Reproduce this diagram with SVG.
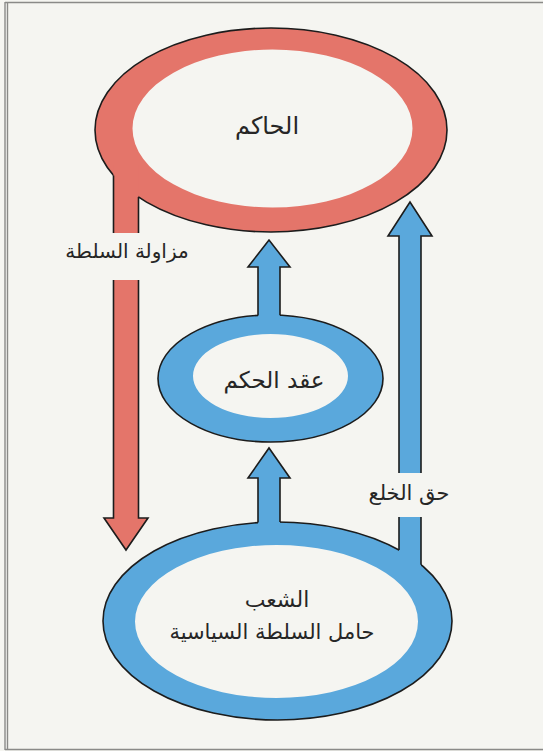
<svg xmlns="http://www.w3.org/2000/svg" width="543" height="751" viewBox="0 0 543 751">
<style>
.red{fill:#e4756a}
.blue{fill:#5aa8dc}
.ring{fill-rule:evenodd}
.outline{fill:none;stroke:#1c1c1c;stroke-width:1.6;stroke-linejoin:miter}
.arrow{stroke:#1c1c1c;stroke-width:1.6;stroke-linejoin:miter}
.frame{fill:none;stroke:#8a8a88;stroke-width:1.4}
.lbl{font-family:"DejaVu Sans",sans-serif;font-size:21px;fill:#262626;text-anchor:middle}
</style>
<rect x="0" y="0" width="543" height="751" fill="#f5f5f1"/>
<g id="frame">
<line class="frame" x1="5" y1="2.5" x2="543" y2="2.5"/>
<line class="frame" x1="5" y1="2" x2="5" y2="750"/>
<line class="frame" x1="7.5" y1="2" x2="7.5" y2="750"/>
<line class="frame" x1="5" y1="749.5" x2="543" y2="749.5"/>
</g>
<g id="ruler">
<path class="red ring" d="M95,130 a176,102 0 1,0 352,0 a176,102 0 1,0 -352,0 Z M132.5,128.5 a140,79 0 1,0 280,0 a140,79 0 1,0 -280,0 Z"/>
<ellipse class="outline" cx="271" cy="130" rx="176" ry="102"/>
<text class="lbl" x="267" y="134" style="font-size:24px">الحاكم</text>
</g>
<g id="contract">
<path class="blue ring" d="M158,378.5 a112.5,63.5 0 1,0 225,0 a112.5,63.5 0 1,0 -225,0 Z M193,376 a77.5,42 0 1,0 155,0 a77.5,42 0 1,0 -155,0 Z"/>
<ellipse class="outline" cx="270.5" cy="378.5" rx="112.5" ry="63.5"/>
<text class="lbl" x="274" y="388" style="font-size:23px">عقد الحكم</text>
</g>
<g id="people">
<path class="blue ring" d="M103,621 a174.5,99 0 1,0 349,0 a174.5,99 0 1,0 -349,0 Z M135,621.5 a141.5,76.5 0 1,0 283,0 a141.5,76.5 0 1,0 -283,0 Z"/>
<ellipse class="outline" cx="277.5" cy="621" rx="174.5" ry="99"/>
<text class="lbl" x="277" y="607" style="font-size:22px">الشعب</text>
<text class="lbl" x="272" y="639">حامل السلطة السياسية</text>
</g>
<g id="connectors">
<g id="exercise-of-power">
<path class="red" d="M113.5,165 V233 H138.5 V165 Z"/>
<path class="outline" d="M113.5,175.5 V233 M138.5,197.1 V233"/>
<path class="red arrow" d="M113.5,280 V518 H104 L126,550 L148,518 H138.5 V280"/>
<text class="lbl" x="127" y="258" style="font-size:20px">مزاولة السلطة</text>
</g>
<g id="contract-to-ruler">
<path class="blue" d="M258,326 V267 H248 L269,240 L290,267 H280 V326 Z"/>
<path class="outline" d="M258,315.4 V267 H248 L269,240 L290,267 H280 V315.2"/>
</g>
<g id="people-to-contract">
<path class="blue" d="M258,538 V478 H248 L269,448 L290,478 H280 V538 Z"/>
<path class="outline" d="M258,522.6 V478 H248 L269,448 L290,478 H280 V522"/>
</g>
<g id="right-of-removal">
<path class="blue" d="M399,517 V575 H421 V517 Z"/>
<path class="outline" d="M399,517 V549.9 M421,517 V564.7"/>
<path class="blue arrow" d="M399,473 V236 H388 L410,202 L432,236 H421 V473"/>
<text class="lbl" x="409" y="500">حق الخلع</text>
</g>
</g>
</svg>
